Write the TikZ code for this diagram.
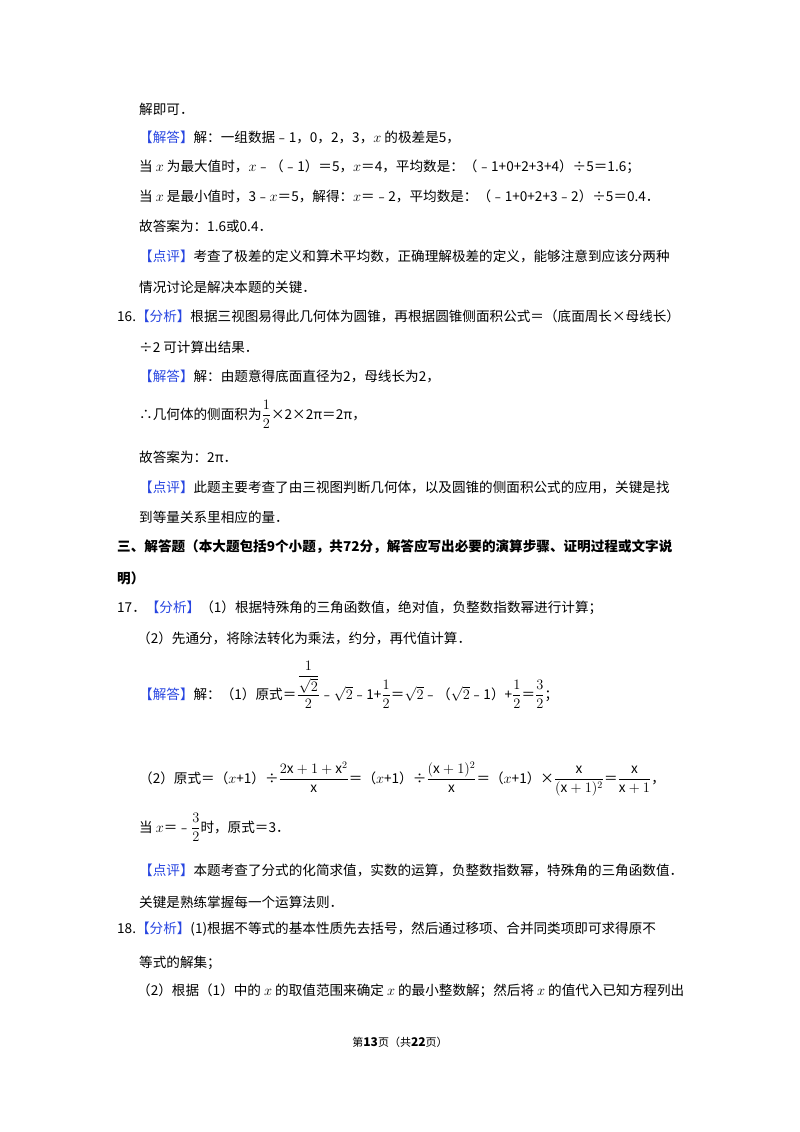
\documentclass[tikz,border=0pt]{standalone}
\usepackage{fontspec}
\usepackage{amsmath}
\setmainfont{Noto Sans CJK SC}
\definecolor{kb}{RGB}{40,70,225}
\newcommand{\tg}[1]{\textcolor{kb}{【#1】}}
\tikzset{ln/.style={anchor=base west, inner sep=0pt, font=\fontsize{13.6}{16}\selectfont}}
\begin{document}
\begin{tikzpicture}[x=1pt,y=1pt]
\useasboundingbox (0,0) rectangle (800,-1132);
\fill[white] (0,0) rectangle (800,-1132);
\node[ln] (l1) at (139,-114) {解即可．};
\node[ln] (l2) at (139,-142) {\tg{解答}解：一组数据﹣1，0，2，3，$x$ 的极差是5，};
\node[ln] (l3) at (139,-171) {当 $x$ 为最大值时，$x$﹣（﹣1）＝5，$x$＝4，平均数是：（﹣1+0+2+3+4）÷5＝1.6；};
\node[ln] (l4) at (139,-201) {当 $x$ 是最小值时，3﹣$x$＝5，解得：$x$＝﹣2，平均数是：（﹣1+0+2+3﹣2）÷5＝0.4．};
\node[ln] (l5) at (139,-231) {故答案为：1.6或0.4．};
\node[ln] (l6) at (139,-261) {\tg{点评}考查了极差的定义和算术平均数，正确理解极差的定义，能够注意到应该分两种};
\node[ln] (l7) at (139,-292) {情况讨论是解决本题的关键．};
\node[ln] (l8) at (117,-321) {16.\tg{分析}根据三视图易得此几何体为圆锥，再根据圆锥侧面积公式＝（底面周长×母线长）};
\node[ln] (l9) at (139,-352) {÷2 可计算出结果．};
\node[ln] (l10) at (139,-381) {\tg{解答}解：由题意得底面直径为2，母线长为2，};
\node[ln] (l11) at (139,-419) {∴几何体的侧面积为$\dfrac{1}{2}$×2×2π＝2π，};
\node[ln] (l12) at (139,-462) {故答案为：2π．};
\node[ln] (l13) at (139,-492) {\tg{点评}此题主要考查了由三视图判断几何体，以及圆锥的侧面积公式的应用，关键是找};
\node[ln] (l14) at (139,-522) {到等量关系里相应的量．};
\node[ln,font=\fontsize{13.6}{16}\selectfont\bfseries] (l15) at (117,-551) {三、解答题（本大题包括9个小题，共72分，解答应写出必要的演算步骤、证明过程或文字说};
\node[ln,font=\fontsize{13.6}{16}\selectfont\bfseries] (l16) at (117,-583) {明）};
\node[ln] (l17) at (117,-612) {17．\tg{分析}（1）根据特殊角的三角函数值，绝对值，负整数指数幂进行计算；};
\node[ln] (l18) at (137,-643) {（2）先通分，将除法转化为乘法，约分，再代值计算．};
\node[ln] (l19) at (139,-699) {\tg{解答}解：（1）原式＝$\dfrac{\dfrac{1}{\sqrt{2}}}{2}$﹣$\sqrt{2}$﹣1+$\dfrac12$＝$\sqrt{2}$﹣（$\sqrt{2}$﹣1）+$\dfrac12$＝$\dfrac32$；};
\node[ln] (l20) at (139,-783) {（2）原式＝（$x$+1）÷$\dfrac{2\mathrm{x}+1+\mathrm{x}^2}{\mathrm{x}}$＝（$x$+1）÷$\dfrac{(\mathrm{x}+1)^2}{\mathrm{x}}$＝（$x$+1）×$\dfrac{\mathrm{x}}{(\mathrm{x}+1)^2}$＝$\dfrac{\mathrm{x}}{\mathrm{x}+1}$，};
\node[ln] (l21) at (139,-832) {当 $x$＝﹣$\dfrac32$时，原式＝3．};
\node[ln] (l22) at (139,-875) {\tg{点评}本题考查了分式的化简求值，实数的运算，负整数指数幂，特殊角的三角函数值．};
\node[ln] (l23) at (139,-907) {关键是熟练掌握每一个运算法则．};
\node[ln] (l24) at (117,-933) {18.\tg{分析}(1)根据不等式的基本性质先去括号，然后通过移项、合并同类项即可求得原不};
\node[ln] (l25) at (139,-967) {等式的解集；};
\node[ln] (l26) at (137,-995) {（2）根据（1）中的 $x$ 的取值范围来确定 $x$ 的最小整数解；然后将 $x$ 的值代入已知方程列出};
\node[anchor=base, inner sep=0pt, font=\fontsize{11}{13}\selectfont] (ft) at (400,-1046) {第\textbf{\large 13}页（共\textbf{\large 22}页）};
\end{tikzpicture}
\end{document}
